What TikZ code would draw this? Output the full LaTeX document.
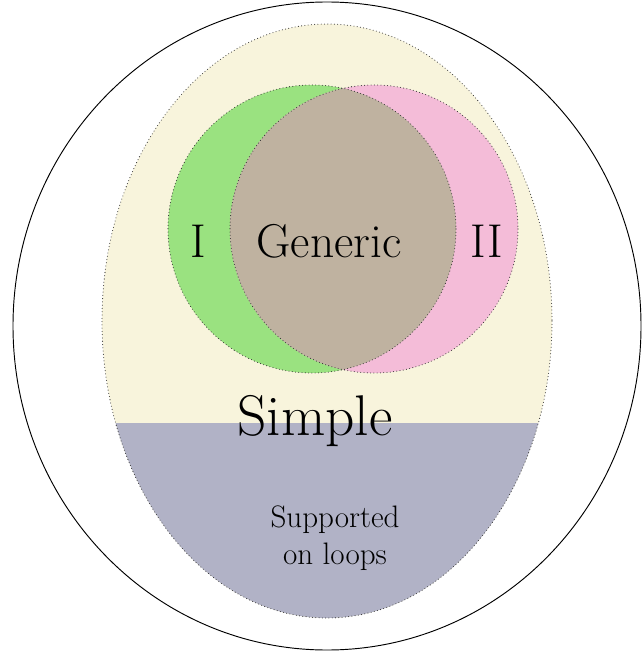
\documentclass[tikz,border=0pt]{standalone}
\usepackage{fontspec}
\usepackage{xcolor}
\usepackage{tikz}
\definecolor{cream}{RGB}{248,244,220}
\definecolor{slate}{RGB}{177,178,198}
\definecolor{leaf}{RGB}{154,226,128}
\definecolor{rose}{RGB}{244,188,216}
\definecolor{mud}{RGB}{191,178,160}

\begin{document}
\begin{tikzpicture}[x=0.03cm,y=-0.03cm,
        rim/.style={draw=black!80,line width=0.9pt,line cap=round,dash pattern=on 0pt off 2.8pt},
        big/.style={anchor=base,font=\fontsize{40.5}{44}\selectfont}]
        \useasboundingbox (0,0) rectangle (641,657);
        % outer set
        \draw[line width=0.8pt] (327,326) ellipse [x radius=314, y radius=324];
        % simple
        \fill[cream] (327,321) ellipse [x radius=225, y radius=297];
        \begin{scope}
        \clip (327,321) ellipse [x radius=225, y radius=297];
        \fill[slate] (0,423) rectangle (641,657);
        \end{scope}
        \draw[rim] (327,321) ellipse [x radius=225, y radius=297];
        % I and II
        \fill[leaf] (312,229) circle (144);
        \fill[rose] (374,229) circle (144);
        \begin{scope}
        \clip (312,229) circle (144);
        \fill[mud] (374,229) circle (144);
        \end{scope}
        \draw[rim] (312,229) circle (144);
        \draw[rim] (374,229) circle (144);
        % labels
        \node[big] (one) at (198,258) {I};
        \node[big] (generic) at (329,258) {Generic};
        \node[big] (two) at (487,258) {II};
        \node[anchor=base,font=\fontsize{49}{52}\selectfont] (simple) at (315,435) {Simple};
        \node[align=center,font=\fontsize{26.5}{31.6}\selectfont] (loops) at (335,538) {Supported\\on loops};
\end{tikzpicture}
\end{document}
